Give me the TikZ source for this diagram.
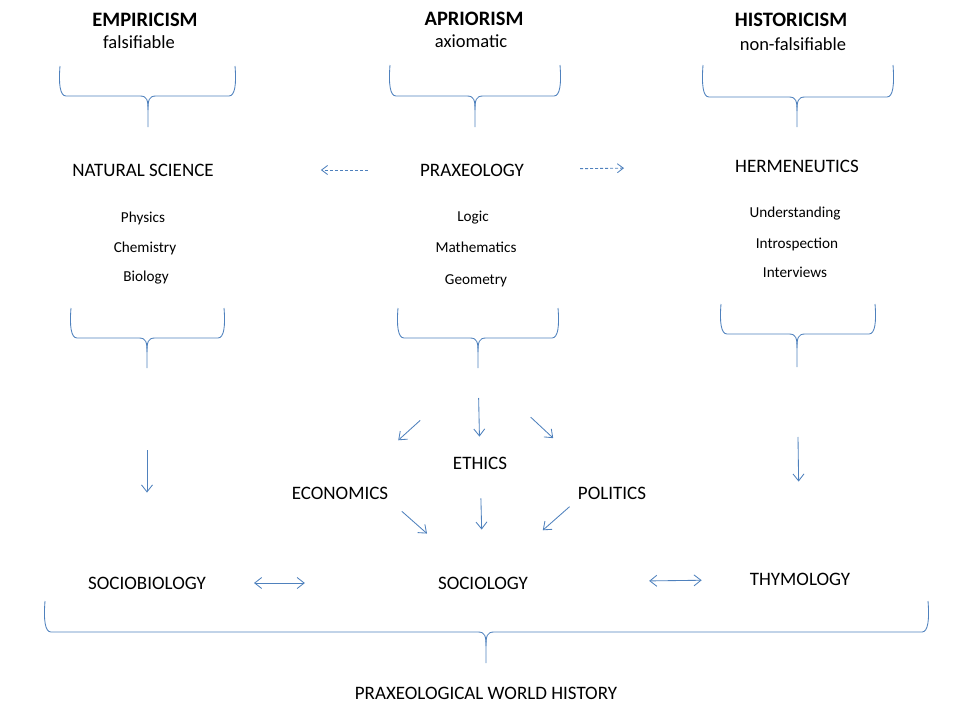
\documentclass[tikz,border=0pt]{standalone}
\usepackage{fontspec}
\setmainfont{Carlito}
\usetikzlibrary{arrows.meta}
\definecolor{lineblue}{RGB}{79,129,189}

\begin{document}
\begin{tikzpicture}[
        x=1pt, y=-1pt,
        school/.style={font=\fontsize{20.5}{24}\selectfont\bfseries, inner sep=0pt},
        motto/.style={font=\fontsize{18.5}{22}\selectfont, inner sep=0pt},
        field/.style={font=\fontsize{19}{22}\selectfont, inner sep=0pt},
        item/.style={font=\fontsize{15.2}{18}\selectfont, inner sep=0pt},
        brace/.style={draw=lineblue, line width=0.85pt},
        arrow/.style={draw=lineblue, line width=0.85pt, -{Straight Barb[length=7pt,width=11pt]}},
        twoway/.style={draw=lineblue, line width=0.85pt, {Straight Barb[length=7pt,width=11pt]}-{Straight Barb[length=7pt,width=11pt]}},
        dasharrow/.style={draw=lineblue, line width=0.85pt, dash pattern=on 3pt off 2pt, -{Straight Barb[length=6pt,width=9pt]}}
    ]
        \useasboundingbox (0,0) rectangle (960,720);

        % Schools
        \node[school] (empiricism) at (145,20) {EMPIRICISM};
        \node[motto] (falsif) at (139,42) {falsifiable};
        \node[school] (apriorism) at (474,19) {APRIORISM};
        \node[motto] (axiom) at (471,41) {axiomatic};
        \node[school] (historicism) at (791,20) {HISTORICISM};
        \node[motto] (nonfalsif) at (793,44) {non-falsifiable};

        % Sciences
        \node[field] (natsci) at (143,170) {NATURAL SCIENCE};
        \node[field] (prax) at (472,170) {PRAXEOLOGY};
        \node[field] (herm) at (797,166) {HERMENEUTICS};

        \node[item] (physics) at (143,218) {Physics};
        \node[item] (chem) at (145,248) {Chemistry};
        \node[item] (bio) at (146,278) {Biology};
        \node[item] (logic) at (473,218) {Logic};
        \node[item] (math) at (476,247) {Mathematics};
        \node[item] (geom) at (476,281) {Geometry};
        \node[item] (underst) at (795,214) {Understanding};
        \node[item] (intro) at (797,244) {Introspection};
        \node[item] (interv) at (795,272) {Interviews};

        % Branches
        \node[field] (ethics) at (480,463) {ETHICS};
        \node[field] (econ) at (340,493) {ECONOMICS};
        \node[field] (polit) at (612,493) {POLITICS};

        \node[field] (sociobio) at (147,583) {SOCIOBIOLOGY};
        \node[field] (socio) at (483,583) {SOCIOLOGY};
        \node[field] (thymo) at (800,579) {THYMOLOGY};
        \node[field] (worldhist) at (486,693) {PRAXEOLOGICAL WORLD HISTORY};

        % Braces: left/right/cusp/top/bar/bottom/name
        \foreach \a/\e/\c/\t/\m/\b/\n in {60/235/148/66/96/127/empcusp,
                390/560/475/65/96/127/aprcusp,
                703/893/797/65/97/127/histcusp,
                71/224/147/308/338/368/natcusp,
                398/558/478/308/338/368/praxcusp,
                721/875/797/304/334/367/hermcusp,
                45/928/486/601/632/663/worldcusp}{
            \draw[brace] (\a,\t) .. controls (\a-1.5,\m-12) and (\a,\m) .. (\a+6,\m)
                -- (\c-8,\m) .. controls (\c-1,\m) and (\c,\m+4) .. (\c,\m+14) -- (\c,\b);
            \draw[brace] (\e,\t) .. controls (\e+1.5,\m-12) and (\e,\m) .. (\e-6,\m)
                -- (\c+8,\m) .. controls (\c+1,\m) and (\c,\m+4) .. (\c,\m+14);
            \coordinate (\n) at (\c,\b);
        }

        % Arrows
        \draw[dasharrow, shorten <=52pt, shorten >=107pt] (prax) -- (natsci);
        \draw[dasharrow, shorten <=56pt, shorten >=111pt] (prax) -- (herm);

        \draw[arrow, shorten <=82pt, shorten >=84pt] (natcusp) -- (sociobio);
        \draw[arrow, shorten <=70pt, shorten >=91pt] (hermcusp) -- (thymo);

        \draw[arrow, shorten <=30pt, shorten >=20pt] (praxcusp) -- (ethics);
        \draw[arrow, shorten <=78pt, shorten >=69pt] (praxcusp) -- (econ);
        \draw[arrow, shorten <=72pt, shorten >=71pt] (praxcusp) -- (polit);

        \draw[arrow, shorten <=18pt, shorten >=65pt] (econ.south east) -- (socio);
        \draw[arrow, shorten <=29pt, shorten >=47pt] (ethics) -- (socio);
        \draw[arrow, shorten <=11pt, shorten >=70pt] (polit.south west) -- (socio);

        \draw[twoway, shorten <=48pt, shorten >=133pt] (sociobio) -- (socio);
        \draw[twoway, shorten <=121pt, shorten >=48pt] (socio) -- (thymo);
\end{tikzpicture}
\end{document}
